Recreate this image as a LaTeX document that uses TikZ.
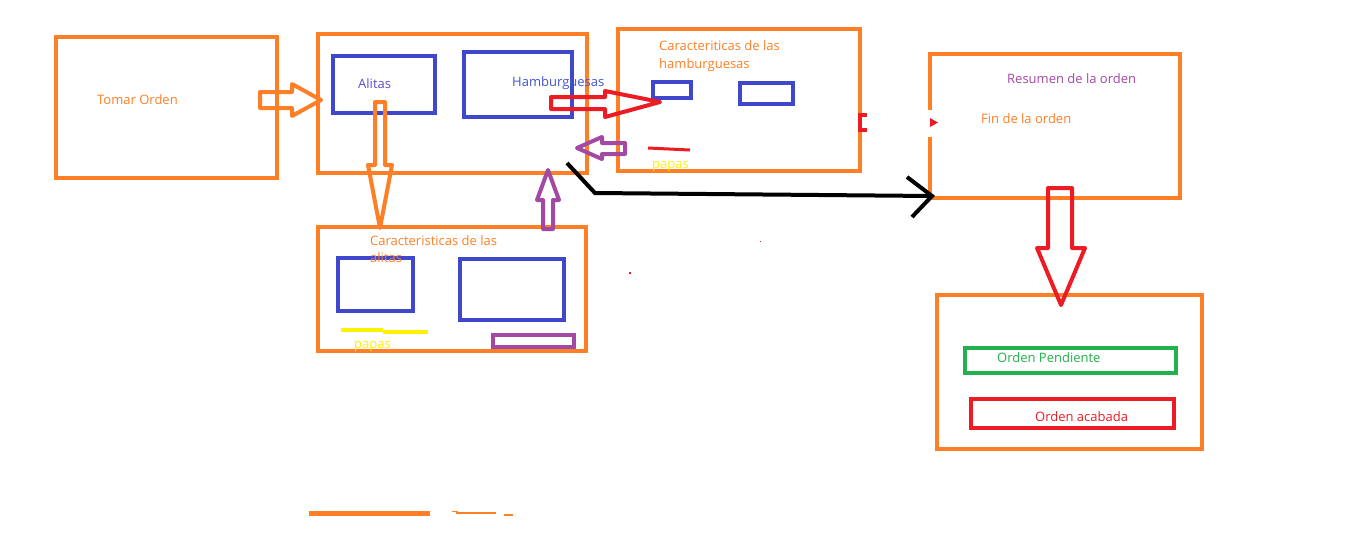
\documentclass[tikz,border=0pt]{standalone}
\usepackage{fontspec}
\setmainfont{Open Sans}
\definecolor{org}{HTML}{FF7F27}
\definecolor{ind}{HTML}{3F48CC}
\definecolor{rd}{HTML}{ED1C24}
\definecolor{pur}{HTML}{A349A4}
\definecolor{grn}{HTML}{22B14C}
\definecolor{yel}{HTML}{FFF200}
\definecolor{alt}{HTML}{5B4FCF}
\definecolor{ham}{HTML}{3F56D4}
\begin{document}
\begin{tikzpicture}[x=1pt,y=-1pt,
  rbox/.style={draw=#1, line width=4.5pt, inner sep=0pt, outer sep=0pt},
  lbl/.style={anchor=base west, inner sep=0pt, text=#1, font=\fontsize{13}{15}\selectfont},
  blk/.style={draw=#1, line width=4pt, line join=round}]
\useasboundingbox[fill=white] (0,0) rectangle (1358,550);
% boxes
\node[rbox=org, minimum width=221pt, minimum height=141pt] (tomar) at (166.5,107.5) {};
\node[rbox=org, minimum width=269pt, minimum height=139pt] (menu) at (452.5,103.5) {};
\node[rbox=ind, minimum width=102pt, minimum height=57pt] (alitas) at (384,84.5) {};
\node[rbox=ind, minimum width=108pt, minimum height=65pt] (hamb) at (518,84.5) {};
\node[rbox=org, minimum width=268pt, minimum height=124pt] (caralit) at (452,289) {};
\node[rbox=ind, minimum width=75pt, minimum height=53pt] (ala) at (375.5,284.5) {};
\node[rbox=ind, minimum width=104pt, minimum height=61pt] (alb) at (512,289.5) {};
\node[rbox=pur, minimum width=81pt, minimum height=12pt] (alp) at (533.5,341) {};
\node[rbox=org, minimum width=242pt, minimum height=142pt] (carham) at (739,100) {};
\node[rbox=ind, minimum width=38pt, minimum height=16pt] (hba) at (672,90) {};
\node[rbox=ind, minimum width=53pt, minimum height=21pt] (hbb) at (766.5,93.5) {};
\node[rbox=org, minimum width=250pt, minimum height=144pt] (resumen) at (1055,126) {};
\node[rbox=org, minimum width=265pt, minimum height=154pt] (estado) at (1069.5,372) {};
\node[rbox=grn, minimum width=211pt, minimum height=25pt] (pend) at (1070.5,360.5) {};
\node[rbox=rd, minimum width=203pt, minimum height=29pt] (acab) at (1072.5,413.5) {};
% erased bits on box edges
\fill[white] (925,110) rectangle (933,137);
\fill[rd] (930,118) -- (938,122.5) -- (930,127) -- cycle;
\draw[rd, line width=4pt] (867,115) -- (860,115) -- (860,130) -- (867,130);
% block arrows
\draw[blk=org] (260,92) -- (292,92) -- (292,84) -- (321,100) -- (292,116) -- (292,108) -- (260,108) -- cycle;
\draw[blk=org] (375,102) -- (385,102) -- (385,165) -- (392,165) -- (380,228) -- (368,165) -- (375,165) -- cycle;
\draw[blk=pur] (543,229) -- (553,229) -- (553,200) -- (559,200) -- (548,170) -- (537,200) -- (543,200) -- cycle;
\draw[blk=rd] (551,97) -- (605,97) -- (605,91) -- (660,102) -- (605,117) -- (605,109) -- (551,109) -- cycle;
\draw[blk=pur] (625,143) -- (602,143) -- (602,137) -- (577,148) -- (602,159) -- (602,154) -- (625,154) -- cycle;
\draw[blk=rd] (1048,188) -- (1072,188) -- (1072,248) -- (1085,248) -- (1061,305) -- (1037,248) -- (1048,248) -- cycle;
% black connector
\coordinate (bs) at (567,163);
\coordinate (bk) at (595,193);
\coordinate (be) at (932,196);
\draw[line width=4pt] (bs) -- (bk) -- (be);
\draw[line width=4pt] (907,177) -- (be) -- (912,217);
% marks
\draw[rd, line width=3pt] (648,148) -- (690,150);
\draw[yel, line width=4pt] (341,330) -- (383,330);
\draw[yel, line width=4pt] (383,331.5) -- (428,331.5);
\draw[org, line width=5pt] (309,513.5) -- (430,513.5);
\draw[org, line width=1pt] (452,511) -- (458,511);
\draw[org, line width=2pt] (456,512.5) -- (496,512.5);
\draw[org, line width=1.5pt] (504,515) -- (513,515);
\fill[rd] (629,272) rectangle (631,274);
\fill[rd] (760,241) rectangle (761,242);
% texts
\node[lbl=org] (t1) at (97,104.5) {Tomar Orden};
\node[lbl=alt] (t2) at (358,88.5) {Alitas};
\node[lbl=ham] (t3) at (512,86.5) {Hamburguesas};
\node[lbl=org] (t4) at (370,245.5) {Caracteristicas de las};
\node[lbl=org] (t5) at (370,262.5) {alitas};
\node[lbl=yel] (t6) at (354,348.5) {papas};
\node[lbl=org] (t7) at (659,50.5) {Caracteriticas de las};
\node[lbl=org] (t8) at (659,68.5) {hamburguesas};
\node[lbl=yel] (t9) at (652,168.5) {papas};
\node[lbl=pur] (t10) at (1007,83.5) {Resumen de la orden};
\node[lbl=org] (t11) at (981,123.5) {Fin de la orden};
\node[lbl=grn] (t12) at (997,362.5) {Orden Pendiente};
\node[lbl=rd] (t13) at (1035,421.5) {Orden acabada};
\end{tikzpicture}
\end{document}
